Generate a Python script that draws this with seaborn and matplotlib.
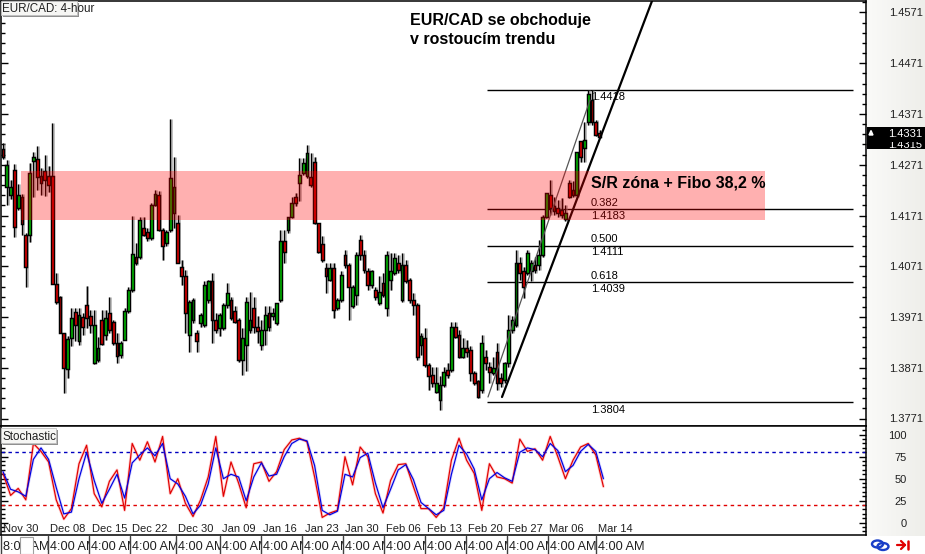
import numpy as np
import pandas as pd
import matplotlib
matplotlib.use("Agg")
import matplotlib.pyplot as plt
from matplotlib.patches import Rectangle, Ellipse
from matplotlib.ticker import FixedLocator
import seaborn as sns

opens = [1.4302,1.4227,1.4212,1.4261,1.4185,1.4208,1.4133,1.4133,1.4279,1.4282,
1.4249,1.4258,1.4249,1.4249,1.4036,1.4011,1.3939,1.3868,1.3929,1.3980,
1.3923,1.3971,1.3995,1.3972,1.3880,1.3887,1.3965,1.3936,1.3979,1.3962,
1.3919,1.3897,1.3926,1.3982,1.4024,1.4090,1.4090,1.4146,1.4139,1.4126,
1.4192,1.4212,1.4143,1.4116,1.4143,1.4176,1.4156,1.4070,1.4051,1.3936,
1.3966,1.3939,1.3959,1.3956,1.4005,1.4041,1.3966,1.3949,1.3949,1.3995,
1.4005,1.3982,1.3966,1.3887,1.3916,1.3946,1.3988,1.3952,1.3916,1.3946,
1.3979,1.3972,1.3959,1.4005,1.4120,1.4143,1.4169,1.4208,
1.4235,1.4254,1.4248,1.4247,1.4277,1.4156,1.4115,1.4067,1.4044,1.4067,
1.3988,1.4005,1.4093,1.4074,1.3992,1.4015,1.4123,1.4093,1.4061,1.4034,
1.4024,1.3999,1.4038,1.3988,1.4044,1.4057,1.4077,1.4005,1.4074,1.4044,
1.4005,1.3995,1.3916,1.3929,1.3877,1.3857,1.3824,1.3808,1.3837,1.3867,
1.3867,1.3952,1.3936,1.3893,1.3910,1.3906,1.3860,1.3844,1.3827,1.3893,
1.3873,1.3860,1.3903,1.3850,1.3847,1.3880,1.3946,1.3956,1.4077,1.4061,
1.4057,1.4061,1.4074,1.4074,1.4093,1.4169,1.4212,1.4189,1.4185,1.4182,
1.4164,1.4235,1.4222,1.4212,1.4317,1.4304,1.4356,1.4399,1.4356,1.4333]

closes = [1.4286,1.4270,1.4228,1.4149,1.4212,1.4155,1.4070,1.4254,1.4287,1.4247,
1.4235,1.4241,1.4231,1.4036,1.4001,1.3939,1.3870,1.3927,1.3969,1.3956,
1.3975,1.3952,1.3969,1.3956,1.3956,1.3910,1.3918,1.3969,1.3946,1.3919,
1.3894,1.3919,1.3982,1.4024,1.4095,1.4077,1.4162,1.4133,1.4126,1.4192,
1.4213,1.4143,1.4110,1.4139,1.4245,1.4227,1.4077,1.4051,1.3979,1.4001,
1.4005,1.3923,1.3975,1.4034,1.4041,1.3966,1.3946,1.3975,1.3995,1.4018,
1.3969,1.3962,1.3887,1.3929,1.4001,1.3966,1.3952,1.3943,1.3946,1.3975,
1.3952,1.3979,1.3999,1.4120,1.4100,1.4169,1.4195,1.4195,
1.4251,1.4274,1.4295,1.4231,1.4156,1.4100,1.4084,1.4051,1.4067,1.3985,
1.4005,1.4054,1.4074,1.4031,1.4031,1.4093,1.4093,1.4064,1.4034,1.4061,
1.4011,1.4021,1.4015,1.4093,1.4061,1.4087,1.4064,1.4074,1.4041,1.4005,
1.3995,1.3893,1.3933,1.3877,1.3854,1.3841,1.3841,1.3837,1.3863,1.3857,
1.3952,1.3932,1.3893,1.3910,1.3903,1.3860,1.3841,1.3814,1.3919,1.3880,
1.3863,1.3870,1.3841,1.3841,1.3880,1.3946,1.3966,1.4078,1.4057,1.4031,
1.4097,1.4077,1.4064,1.4093,1.4169,1.4215,1.4185,1.4179,1.4176,1.4172,
1.4176,1.4208,1.4212,1.4297,1.4287,1.4320,1.4410,1.4356,1.4330,1.4325]

highs = [1.4314,1.4281,1.4241,1.4273,1.4233,1.4214,1.4136,1.4274,1.4297,1.4307,
1.4264,1.4291,1.4268,1.4353,1.4057,1.4013,1.3939,1.3933,1.3988,1.3988,
1.3988,1.3979,1.4032,1.3985,1.3985,1.3931,1.3984,1.3985,1.4011,1.3965,
1.3939,1.3923,1.3988,1.4031,1.4170,1.4117,1.4169,1.4169,1.4146,1.4195,
1.4222,1.4220,1.4146,1.4143,1.4361,1.4286,1.4172,1.4084,1.4064,1.4005,
1.4008,1.3946,1.3979,1.4041,1.4044,1.4057,1.3979,1.3979,1.3998,1.4038,
1.4011,1.3992,1.3969,1.3949,1.4011,1.4021,1.4011,1.3972,1.3965,1.3992,
1.3992,1.3988,1.3999,1.4143,1.4143,1.4169,1.4208,1.4215,
1.4284,1.4284,1.4310,1.4294,1.4287,1.4156,1.4130,1.4077,1.4077,1.4077,
1.4008,1.4061,1.4103,1.4077,1.4034,1.4100,1.4133,1.4103,1.4067,1.4064,
1.4031,1.4051,1.4057,1.4102,1.4097,1.4098,1.4093,1.4097,1.4084,1.4048,
1.4018,1.3998,1.3939,1.3949,1.3880,1.3873,1.3873,1.3854,1.3873,1.3880,
1.3962,1.3962,1.3946,1.3929,1.3926,1.3913,1.3864,1.3847,1.3936,1.3906,
1.3883,1.3893,1.3919,1.3860,1.3883,1.3975,1.3972,1.4103,1.4090,1.4070,
1.4103,1.4084,1.4090,1.4123,1.4172,1.4216,1.4241,1.4208,1.4202,1.4205,
1.4192,1.4241,1.4238,1.4297,1.4317,1.4356,1.4418,1.4418,1.4360,1.4340]

lows = [1.4282,1.4192,1.4203,1.4128,1.4182,1.4133,1.4030,1.4118,1.4208,1.4222,
1.4212,1.4210,1.4218,1.4036,1.3997,1.3939,1.3822,1.3850,1.3913,1.3923,
1.3916,1.3936,1.3949,1.3939,1.3879,1.3883,1.3916,1.3926,1.3939,1.3916,
1.3880,1.3890,1.3926,1.3979,1.4021,1.4074,1.4085,1.4130,1.4120,1.4123,
1.4189,1.4141,1.4084,1.4110,1.4139,1.4146,1.4077,1.4034,1.3939,1.3903,
1.3959,1.3903,1.3952,1.3952,1.3998,1.3919,1.3939,1.3933,1.3946,1.3988,
1.3966,1.3959,1.3883,1.3857,1.3864,1.3939,1.3939,1.3919,1.3906,1.3916,
1.3943,1.3966,1.3956,1.4001,1.4077,1.4136,1.4166,1.4190,
1.4199,1.4251,1.4245,1.4228,1.4155,1.4098,1.4080,1.4019,1.4041,1.3969,
1.3985,1.4001,1.4067,1.3966,1.3988,1.3995,1.4084,1.4057,1.4024,1.4028,
1.4005,1.3995,1.4011,1.3972,1.4024,1.4054,1.4057,1.4001,1.4038,1.3998,
1.3975,1.3887,1.3896,1.3873,1.3827,1.3834,1.3821,1.3788,1.3834,1.3850,
1.3863,1.3929,1.3890,1.3890,1.3893,1.3844,1.3837,1.3811,1.3821,1.3867,
1.3841,1.3857,1.3827,1.3834,1.3841,1.3873,1.3939,1.3952,1.4044,1.4008,
1.4054,1.4041,1.4057,1.4064,1.4090,1.4166,1.4172,1.4172,1.4169,1.4166,
1.4161,1.4205,1.4208,1.4208,1.4277,1.4277,1.4350,1.4350,1.4327,1.4323]

stoch_k = [56,31,39,26,90,81,69,26,4,16,67,88,33,18,47,60,14,90,71,92,69,98,33,50,22,7,26,52,98,30,
69,45,17,67,69,47,58,83,94,96,92,52,6,11,14,75,43,86,75,33,11,48,66,67,41,16,16,6,17,71,
96,71,56,14,67,52,50,45,95,81,84,71,98,75,50,71,86,90,77,41]
stoch_d = [58,38,35,30,72,85,72,40,10,12,50,80,48,22,38,55,28,68,77,85,76,90,50,44,30,10,20,44,85,50,
55,52,25,52,68,53,55,75,90,95,93,65,14,9,13,55,52,74,79,45,17,38,60,66,49,23,16,9,14,55,
88,78,61,26,50,57,51,47,80,85,83,75,90,82,58,65,81,89,81,50]

fib_ratios = ["0.382", "0.500", "0.618"]
fib_levels = [1.4183, 1.4111, 1.4039]
fib_high, fib_low = 1.4418, 1.3804
price_ticks = [1.4571,1.4471,1.4371,1.4271,1.4171,1.4071,1.3971,1.3871,1.3771]
date_labels = ["Nov 30","Dec 08","Dec 15","Dec 22","Dec 30","Jan 09","Jan 16","Jan 23",
               "Jan 30","Feb 06","Feb 13","Feb 20","Feb 27","Mar 06","Mar 14"]
date_px = [3,50,92,132,178,222,263,305,345,386,427,468,508,549,598]
sep_px = [1,48,89,130,176,220,261,302,343,384,425,466,507,548,596]

W, H = 925, 554
FONT = "Liberation Sans"
sns.set_theme(style="white")
plt.rcParams["font.family"] = [FONT, "DejaVu Sans"]

def px_x(x):      # pixel -> candle index
    return (x - 3) / 3.8
def px_y(y):      # pixel -> price
    return 1.4571 - (y - 12.5) / 5075

fig = plt.figure(figsize=(W / 100, H / 100), dpi=100, facecolor="white")
main_bottom, main_top = 426, 1
ax = fig.add_axes([1 / W, 1 - main_bottom / H, 865 / W, (main_bottom - main_top) / H])
sub = fig.add_axes([1 / W, 1 - 535 / H, 865 / W, 109 / H])
for a in (ax, sub):
    a.set_xlim(px_x(1), px_x(866))
    a.set_facecolor("white")
    for s in a.spines.values():
        s.set_color("black"); s.set_linewidth(1.1); s.set_visible(True)
    a.set_xticks([])
ax.set_ylim(px_y(main_bottom), px_y(main_top))
sub.set_ylim(100 - (535 - 434.7) / 0.88, 100 + (434.7 - 426) / 0.88)

df = pd.DataFrame({"o": opens, "c": closes, "h": highs, "l": lows})
df["i"] = np.arange(len(df))
up = df["c"] >= df["o"]
ax.vlines(df["i"] + 0.2, df["l"], df["h"], color="#808080", lw=2.0, alpha=0.55, zorder=2)
ax.vlines(df["i"], df["l"], df["h"], color="black", lw=1.0, zorder=3)
ax.bar(df["i"], (df["c"] - df["o"]).abs(), bottom=df[["o", "c"]].min(axis=1), width=0.72,
       color=np.where(up, "#00c000", "#e80000"), edgecolor="black", linewidth=1.05, zorder=4)

# S/R band
ax.add_patch(Rectangle((px_x(21), px_y(220)), px_x(765) - px_x(21), px_y(171) - px_y(220),
                       facecolor="#ff0000", alpha=0.31, edgecolor="none", zorder=6))

# Fibonacci lines
fx0, fx1 = px_x(487), px_x(853)
for lv in [fib_high, fib_low] + fib_levels:
    ax.hlines(lv, fx0, fx1, color="black", lw=1.0, zorder=1)
tx = px_x(591)
small = dict(fontsize=8, color="black", family=FONT, va="center", ha="left")
for r, lv in zip(fib_ratios, fib_levels):
    ax.text(tx, lv + 6.5 / 5075, r, zorder=1, **small)
    ax.text(tx, lv - 6.5 / 5075, f"{lv:.4f}", zorder=1, **small)
ax.text(tx, fib_high - 7 / 5075, f"{fib_high:.4f}", zorder=1, **small)
ax.text(tx, fib_low - 8 / 5075, f"{fib_low:.4f}", zorder=1, **small)

# Trend lines
ax.plot([px_x(488), px_x(590)], [px_y(397), px_y(100)], color="#555555", lw=0.9, zorder=5)
ax.plot([px_x(502), px_x(652)], [px_y(397), px_y(1)], color="black", lw=1.6, zorder=5)

ax.text(px_x(410), px_y(21), "EUR/CAD se obchoduje", fontsize=11.5, fontweight="bold",
        color="black", va="center", ha="left", zorder=8)
ax.text(px_x(410), px_y(40), "v rostoucím trendu", fontsize=11.5, fontweight="bold",
        color="black", va="center", ha="left", zorder=8)
ax.text(px_x(591), px_y(183), "S/R zóna + Fibo 38,2 %", fontsize=11.5, fontweight="bold",
        color="black", va="center", ha="left", zorder=8)

# Price axis
ax.yaxis.set_major_locator(FixedLocator(price_ticks))
ax.yaxis.set_minor_locator(FixedLocator(list(np.arange(1.3751, 1.4600, 0.002))))
ax.yaxis.set_major_formatter(lambda v, p: f"{v:.4f}")
ax.tick_params(axis="y", which="major", direction="in", length=5, width=1, color="black",
               left=True, right=True, labelleft=False, labelright=True, pad=16.5,
               labelsize=8, labelcolor="#202020")
ax.tick_params(axis="y", which="minor", direction="in", length=3, width=1, color="black",
               left=True, right=True)

# Stochastic
sub_idx = np.arange(len(stoch_k)) * 2
sub.hlines(80, *sub.get_xlim(), color="#0000c0", lw=1, linestyles=(0, (2.5, 2.5)), zorder=1)
sub.hlines(20, *sub.get_xlim(), color="#e00000", lw=1, linestyles=(0, (2.5, 2.5)), zorder=1)
sns.lineplot(x=sub_idx, y=stoch_k, color="#ff3030", lw=2.0, alpha=0.25, ax=sub, legend=False, errorbar=None)
sns.lineplot(x=sub_idx, y=stoch_d, color="#6060ff", lw=2.0, alpha=0.25, ax=sub, legend=False, errorbar=None)
sns.lineplot(x=sub_idx, y=stoch_k, color="#e00000", lw=0.85, ax=sub, legend=False, errorbar=None)
sns.lineplot(x=sub_idx, y=stoch_d, color="#0000e0", lw=0.85, ax=sub, legend=False, errorbar=None)
sub.set_xlabel(""); sub.set_ylabel("")
sub.yaxis.set_major_locator(FixedLocator([0, 25, 50, 75, 100]))
sub.yaxis.set_minor_locator(FixedLocator(list(range(-10, 110, 5))))
sub.tick_params(axis="y", which="major", direction="in", length=5, width=1, color="black",
                left=True, right=True, labelleft=False, labelright=True, pad=29.5,
                labelsize=8, labelcolor="#202020")
for t in sub.get_yticklabels():
    t.set_ha("right")
sub.tick_params(axis="y", which="minor", direction="in", length=3, width=1, color="black",
                left=True, right=True)

# Overlay in pixel space
ov = fig.add_axes([0, 0, 1, 1], facecolor="none", zorder=10)
ov.set_xlim(0, W); ov.set_ylim(H, 0); ov.axis("off")

# Right margin gradient (behind axes)
bg = fig.add_axes([0, 0, 1, 1], zorder=-1)
bg.set_xlim(0, W); bg.set_ylim(H, 0); bg.axis("off")
bg.imshow(np.linspace(0, 1, 60).reshape(1, -1), extent=(867, 925, 536, 0), aspect="auto",
          cmap=matplotlib.colors.LinearSegmentedColormap.from_list("m", ["#fafaf8", "#eeeeea"]))
bg.set_xlim(0, W); bg.set_ylim(H, 0)

# Date labels
for lab, x in zip(date_labels, date_px):
    ov.text(x, 529, lab, fontsize=8, color="#202020", va="center", ha="left")

# Time row
for i, x in enumerate(sep_px):
    txt = "8:00 AM" if i == 0 else "4:00 AM"
    ov.text(x + 2, 547, txt, fontsize=9.2, color="#202020", va="center", ha="left",
            bbox=dict(facecolor="white", edgecolor="none", pad=0.4), zorder=3 + i * 0.01, clip_on=True)
    ov.plot([x, x], [536, 554], color="#404040", lw=1.0, zorder=3 + i * 0.01)
ov.add_patch(Rectangle((20, 537), 12.5, 17, facecolor="white", edgecolor="#a0a0a0", lw=0.8, zorder=5))

# Panel tags
def tag(x0, y0, w, h, s):
    ov.add_patch(Rectangle((x0 + 1.5, y0 + 1.5), w, h, facecolor="#909090", edgecolor="none", zorder=6))
    ov.add_patch(Rectangle((x0, y0), w, h, facecolor="#f6f6f4", edgecolor="#c0c0c0", lw=0.6, zorder=7))
    ov.text(x0 + 1.5, y0 + h / 2 + 1, s, fontsize=8.4, color="#202020", va="center", ha="left", zorder=8)
tag(1, 1, 76, 14, "EUR/CAD: 4-hour")
tag(1, 428, 55, 15, "Stochastic")

# Current price box
ov.add_patch(Rectangle((867, 127), 58, 22, facecolor="black", edgecolor="none", zorder=5))
ov.text(888.5, 134, "1.4331", fontsize=8, color="white", va="center", ha="left", zorder=8)
ov.text(888.5, 144.5, "1.4315", fontsize=8, color="white", va="center", ha="left", zorder=6)
ov.add_patch(Rectangle((867, 139.5), 58, 2.5, facecolor="black", edgecolor="none", zorder=7))
ov.fill([869, 873, 871], [135, 135, 130.5], color="white", zorder=8)

# Corner icons
for cx, cy in ((877.5, 544), (883, 546.5)):
    ov.add_patch(Ellipse((cx, cy), 11, 7, facecolor="none", edgecolor="#1a3fc8", lw=1.7, zorder=8))
ov.plot([897, 905], [545, 545], color="#e00000", lw=1.6, zorder=8)
ov.plot([901, 905, 901], [541, 545, 549], color="#e00000", lw=1.6, zorder=8)
ov.plot([907.5, 907.5], [541, 549], color="#e00000", lw=1.8, zorder=8)

fig.savefig("out.png", dpi=100, facecolor="white")
